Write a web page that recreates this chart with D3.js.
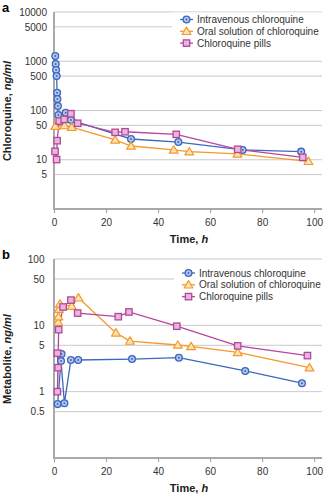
<!DOCTYPE html>
<html>
<head>
<meta charset="utf-8">
<script src="https://cdn.jsdelivr.net/npm/d3@7"></script>
<style>
  body { margin: 0; background: #fff; }
  svg { display: block; font-family: "Liberation Sans", Arial, sans-serif; }
</style>
</head>
<body>
<script>
// legend / series names
var seriesNames = ["Intravenous chloroquine", "Oral solution of chloroquine", "Chloroquine pills"];

// panel a - chloroquine, ng/ml
var ivTimeA   = [0.5, 0.65, 0.8, 1.0, 1.2, 1.3, 1.5, 1.7, 4.5, 6.5, 29.6, 47.8, 72.5, 95];
var ivConcA   = [1280, 880, 664, 500, 230, 171, 123, 81, 90, 64, 26.4, 22.9, 15.8, 14.6];
var oralTimeA = [0.5, 4, 6.8, 23.5, 29.6, 46, 52, 70.5, 97.8];
var oralConcA = [48, 49.5, 46, 25.2, 19, 15.8, 14.6, 13.1, 9.3];
var pillTimeA = [0.4, 1.0, 1.2, 2.0, 3.9, 6.5, 9.1, 23.5, 27.3, 47, 70.6, 95.6];
var pillConcA = [14.8, 10.1, 24.4, 61, 66, 86, 55, 36, 37, 32.8, 16.3, 11.2];

// panel b - metabolite, ng/ml
var ivTimeB   = [1.4, 2.9, 2.7, 4.0, 6.5, 9.3, 30, 48, 73.5, 95.3];
var ivConcB   = [0.65, 3.7, 2.9, 0.67, 3.0, 3.0, 3.1, 3.25, 2.05, 1.34];
var oralTimeB = [1.6, 1.7, 1.9, 2.3, 6.8, 9.4, 23.8, 29.2, 47.6, 52.7, 70.6, 98.2];
var oralConcB = [11.2, 13.5, 17.5, 21, 19.5, 26, 7.7, 5.8, 5.05, 4.8, 3.9, 2.3];
var pillTimeB = [1.3, 1.6, 1.3, 1.8, 3.5, 6.5, 9.1, 24.7, 28.8, 47.2, 70.6, 97.4];
var pillConcB = [3.8, 2.3, 1.0, 8.6, 18.9, 24, 15.3, 13.5, 15.9, 9.7, 4.9, 3.5];

// ticks
var xTicks  = [0, 20, 40, 60, 80, 100];
var yTicksA = [5, 10, 50, 100, 500, 1000, 5000, 10000];
var yTicksB = [0.5, 1, 5, 10, 50, 100];

var colors = ["#3d68bd", "#f4992a", "#b5479b"];
var fills  = ["#b4c6ec", "#fde3b8", "#e7b6dc"];
var shapes = ["circle", "triangle", "square"];

var svg = d3.select("body").append("svg")
    .attr("width", 326)
    .attr("height", 499);

function marker(sel, k) {
    if (shapes[k] == "circle") {
        sel.append("circle").attr("r", 3.4)
            .attr("fill", fills[k]).attr("stroke", colors[k]).attr("stroke-width", 1.3);
        sel.append("circle").attr("r", 1).attr("fill", colors[k]);
    } else if (shapes[k] == "square") {
        sel.append("rect").attr("x", -3.2).attr("y", -3.2).attr("width", 6.4).attr("height", 6.4)
            .attr("fill", fills[k]).attr("stroke", colors[k]).attr("stroke-width", 1.3);
    } else {
        sel.append("path").attr("d", "M0,-4.2L4.4,3.2L-4.4,3.2Z")
            .attr("fill", fills[k]).attr("stroke", colors[k]).attr("stroke-width", 1.2)
            .attr("stroke-linejoin", "round");
    }
}

function drawPanel(p) {
    var x = d3.scaleLinear().domain([0, 103]).range([54, 322]);
    var y = d3.scaleLog().domain(p.yDomain).range([p.bottom, p.top]);

    var g = svg.append("g");

    // gridlines
    g.selectAll(".grid").data(p.yTicks).enter().append("line")
        .attr("x1", 54).attr("x2", 322)
        .attr("y1", d => y(d)).attr("y2", d => y(d))
        .attr("stroke", "#c9c9cf").attr("stroke-width", 1);

    // y labels
    var yAxis = d3.axisLeft(y).tickValues(p.yTicks).tickSize(0).tickPadding(0)
        .tickFormat(d => d >= 10000 ? "10000" : d3.format("~g")(d));
    var yg = g.append("g").attr("transform", "translate(" + p.labelRight + ",0)").call(yAxis);
    yg.select(".domain").remove();
    yg.selectAll("text").attr("font-size", "10px").attr("fill", "#333")
        .attr("font-family", "Liberation Sans, Arial, sans-serif");

    // x axis
    var xAxis = d3.axisBottom(x).tickValues(xTicks).tickSize(4).tickPadding(6);
    var xg = g.append("g").attr("transform", "translate(0," + p.bottom + ")").call(xAxis);
    xg.select(".domain").remove();
    xg.selectAll("line").attr("stroke", "#999");
    xg.selectAll("text").attr("font-size", "10px").attr("fill", "#333")
        .attr("font-family", "Liberation Sans, Arial, sans-serif");

    // axis lines
    g.append("line").attr("x1", 54).attr("x2", 54).attr("y1", p.top).attr("y2", p.bottom + 1)
        .attr("stroke", "#a9a9a9").attr("stroke-width", 2);
    g.append("line").attr("x1", 53).attr("x2", 322).attr("y1", p.bottom).attr("y2", p.bottom)
        .attr("stroke", "#a9a9a9").attr("stroke-width", 2);

    // series
    var line = d3.line().x(d => x(d[0])).y(d => y(d[1]));
    p.series.forEach(function(s, k) {
        var pts = s.t.map((t, i) => [t, s.v[i]]);
        g.append("path").datum(pts).attr("d", line)
            .attr("fill", "none").attr("stroke", colors[k]).attr("stroke-width", 1.3);
    });
    p.series.forEach(function(s, k) {
        var pts = s.t.map((t, i) => [t, s.v[i]]);
        g.selectAll(".m" + k).data(pts).enter().append("g")
            .attr("transform", d => "translate(" + x(d[0]) + "," + y(d[1]) + ")")
            .each(function() { marker(d3.select(this), k); });
    });

    // legend
    g.append("rect").attr("x", p.legX - 8).attr("y", p.legY - 7)
        .attr("width", 326 - p.legX + 8).attr("height", 36).attr("fill", "#fff");
    seriesNames.forEach(function(name, k) {
        var ly = p.legY + k * 11.8;
        g.append("line").attr("x1", p.legX).attr("x2", p.legX + 13).attr("y1", ly).attr("y2", ly)
            .attr("stroke", colors[k]).attr("stroke-width", 1.3);
        marker(g.append("g").attr("transform", "translate(" + (p.legX + 6.5) + "," + ly + ")"), k);
        g.append("text").attr("x", p.legX + p.legGap).attr("y", ly + 3.5)
            .attr("font-size", "10px").attr("fill", "#333").text(name);
    });

    // axis titles
    g.append("text")
        .attr("x", 189).attr("y", p.bottom + 34)
        .attr("text-anchor", "middle")
        .attr("font-size", "11px").attr("font-weight", "bold").attr("fill", "#222")
        .call(t => { t.append("tspan").text("Time, "); t.append("tspan").attr("font-style", "italic").text("h"); });

    g.append("text")
        .attr("transform", "translate(11," + p.titleY + ")rotate(-90)")
        .attr("text-anchor", "middle")
        .attr("font-size", "11px").attr("font-weight", "bold").attr("fill", "#222")
        .call(t => { t.append("tspan").text(p.yTitle + ", "); t.append("tspan").attr("font-style", "italic").text("ng/ml"); });

    g.append("text").attr("x", 2).attr("y", p.top)
        .attr("font-size", "13px").attr("font-weight", "bold").attr("fill", "#000")
        .text(p.letter);
}

drawPanel({
    letter: "a", top: 12, bottom: 209, yDomain: [1, 10000], yTicks: yTicksA,
    labelRight: 47, legX: 180, legY: 19.5, legGap: 17, titleY: 111, yTitle: "Chloroquine",
    series: [{t: ivTimeA, v: ivConcA}, {t: oralTimeA, v: oralConcA}, {t: pillTimeA, v: pillConcA}]
});

drawPanel({
    letter: "b", top: 259, bottom: 458, yDomain: [0.1, 100], yTicks: yTicksB,
    labelRight: 44.5, legX: 182, legY: 273, legGap: 17, titleY: 359, yTitle: "Metabolite",
    series: [{t: ivTimeB, v: ivConcB}, {t: oralTimeB, v: oralConcB}, {t: pillTimeB, v: pillConcB}]
});
</script>
</body>
</html>
